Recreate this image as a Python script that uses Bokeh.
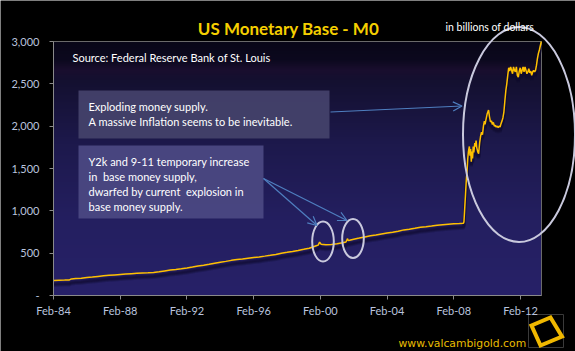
import numpy as np
import pandas as pd
from bokeh.plotting import figure
from bokeh.models import (Range1d, FixedTicker, Label, BoxAnnotation, Arrow,
                          OpenHead)
from bokeh.embed import file_html
from bokeh.resources import INLINE

# ---------------- data (billions of dollars) ----------------
dates = [
    "1984-02-01", "1984-06-01", "1984-10-01", "1985-01-15", "1985-03-01", "1985-06-01", "1985-10-01",
    "1986-02-01", "1986-06-01", "1986-10-01", "1987-02-01", "1987-06-01", "1987-10-01",
    "1988-02-01", "1988-06-01", "1988-10-01", "1989-02-01", "1989-06-01", "1989-10-01",
    "1990-02-01", "1990-06-01", "1990-10-01", "1991-02-01", "1991-06-01", "1991-10-01",
    "1992-02-01", "1992-06-01", "1992-10-01", "1993-02-01", "1993-06-01", "1993-10-01",
    "1994-02-01", "1994-06-01", "1994-10-01", "1995-02-01", "1995-06-01", "1995-10-01",
    "1996-02-01", "1996-06-01", "1996-10-01", "1997-02-01", "1997-06-01", "1997-10-01",
    "1998-02-01", "1998-06-01", "1998-10-01", "1999-02-01", "1999-06-01", "1999-09-01",
    "1999-11-01", "1999-12-15", "2000-01-15", "2000-02-15", "2000-06-01", "2000-10-01",
    "2001-02-01", "2001-06-01", "2001-08-15", "2001-09-19", "2001-10-03", "2001-11-01",
    "2002-02-01", "2002-06-01", "2002-10-01", "2003-02-01", "2003-06-01", "2003-10-01",
    "2004-02-01", "2004-06-01", "2004-10-01", "2005-02-01", "2005-06-01", "2005-10-01",
    "2006-02-01", "2006-06-01", "2006-10-01", "2007-02-01", "2007-06-01", "2007-10-01",
    "2008-02-01", "2008-06-01", "2008-08-27",
    "2008-09-10", "2008-09-24", "2008-10-15", "2008-11-05", "2008-11-19", "2008-12-03",
    "2008-12-17", "2009-01-07", "2009-01-21", "2009-02-04", "2009-02-18", "2009-03-04",
    "2009-03-18", "2009-04-01", "2009-04-15", "2009-05-06", "2009-05-20", "2009-06-03",
    "2009-06-17", "2009-07-08", "2009-07-29", "2009-08-19", "2009-09-09", "2009-09-30",
    "2009-10-21", "2009-11-11", "2009-12-02", "2009-12-16", "2010-01-06", "2010-02-03",
    "2010-03-03", "2010-03-24", "2010-04-14", "2010-05-05", "2010-05-26", "2010-06-16",
    "2010-07-07", "2010-07-28", "2010-08-18", "2010-09-08", "2010-09-29", "2010-10-20",
    "2010-11-10", "2010-12-01", "2010-12-22", "2011-01-12", "2011-02-02", "2011-02-23",
    "2011-03-16", "2011-04-06", "2011-04-27", "2011-05-18", "2011-06-08", "2011-06-29",
    "2011-07-20", "2011-08-10", "2011-08-31", "2011-09-21", "2011-10-12", "2011-11-02",
    "2011-11-23", "2011-12-14", "2012-01-04", "2012-01-25", "2012-02-15", "2012-03-07",
    "2012-03-28", "2012-04-18", "2012-05-09", "2012-05-30", "2012-06-20", "2012-07-11",
    "2012-08-01", "2012-08-22", "2012-09-12", "2012-10-03", "2012-10-24", "2012-11-14",
    "2012-12-05", "2012-12-26", "2013-01-16", "2013-02-06", "2013-02-27", "2013-03-20",
    "2013-04-10", "2013-05-01",
]
values = [
    178, 180, 182, 184, 196, 200, 205,
    212, 218, 225, 232, 238, 243,
    248, 253, 258, 262, 265, 268,
    272, 280, 290, 300, 307, 316,
    326, 336, 348, 358, 368, 380,
    392, 403, 415, 425, 432, 440,
    448, 456, 465, 475, 485, 500,
    510, 520, 532, 545, 558, 575,
    588, 595, 630, 606, 600, 603,
    610, 622, 632, 672, 648, 652,
    665, 678, 692, 705, 715, 727,
    738, 748, 760, 775, 783, 793,
    805, 812, 820, 830, 836, 842,
    848, 850, 852,
    870, 1000, 1200, 1400, 1480, 1620,
    1700, 1760, 1650, 1730, 1580, 1700,
    1620, 1760, 1690, 1800, 1760, 1830,
    1750, 1700, 1675, 1800, 1880, 1930,
    1900, 2000, 2060, 2020, 2080, 2150,
    2190, 2110, 2050, 2065, 2020, 2045,
    2000, 2010, 1990, 2000, 1985, 2000,
    1990, 2030, 2060, 2100, 2170, 2300,
    2420, 2500, 2600, 2690, 2650, 2700,
    2660, 2620, 2700, 2660, 2640, 2700,
    2600, 2580, 2650, 2690, 2620, 2660,
    2700, 2640, 2700, 2660, 2620, 2640,
    2680, 2630, 2650, 2600, 2640, 2660,
    2640, 2660, 2720, 2800, 2860, 2900,
    2950, 3000,
]

y_ticks = [0, 500, 1000, 1500, 2000, 2500, 3000]
y_tick_labels = ["-", "500", "1,000", "1,500", "2,000", "2,500", "3,000"]
x_tick_dates = ["1984-02-01", "1988-02-01", "1992-02-01", "1996-02-01",
                "2000-02-01", "2004-02-01", "2008-02-01", "2012-02-01"]
x_tick_labels = ["Feb-84", "Feb-88", "Feb-92", "Feb-96",
                 "Feb-00", "Feb-04", "Feb-08", "Feb-12"]


def dec_year(s):
    t = pd.Timestamp(s)
    n = 366 if t.is_leap_year else 365
    return t.year + (t.dayofyear - 1) / n


xs = [dec_year(d) for d in dates]
x_ticks = [dec_year(d) for d in x_tick_dates]

# ---------------- layout calibration (pixels) ----------------
W, H = 575, 351
LEFT, BOTTOM = 53, 295
PX_PER_YEAR = 16.68
X0 = x_ticks[0]
Y_TOP_VAL = 3000
Y_PX_3000 = 41
UNITS_PER_PX = Y_TOP_VAL / (BOTTOM - Y_PX_3000)
PLOT_END = X0 + (541 - LEFT) / PX_PER_YEAR


def px2x(px):
    return X0 + (px - LEFT) / PX_PER_YEAR


def py2y(py):
    return (BOTTOM - py) * UNITS_PER_PX


p = figure(width=W, height=H, x_range=Range1d(px2x(0), px2x(W)),
           y_range=Range1d(py2y(H), py2y(0)),
           output_backend="svg", toolbar_location=None,
           min_border_left=0, min_border_right=0, min_border_top=0,
           min_border_bottom=0,
           background_fill_color="black", border_fill_color="black",
           outline_line_color=None)
p.grid.visible = False

# background gradient of plot area
stops_t = [0.0, 0.07, 0.11, 0.15, 0.40, 0.70, 1.0]
stops_c = np.array([(9, 7, 24), (12, 9, 30), (26, 14, 46), (20, 16, 48),
                    (29, 25, 76), (36, 31, 96), (39, 33, 104)], dtype=float)
n = 254
t = np.linspace(0, 1, n)
cols = np.stack([np.interp(t, stops_t, stops_c[:, k]) for k in range(3)], axis=1)
img = np.zeros((n, 1), dtype=np.uint32)
view = img.view(dtype=np.uint8).reshape((n, 1, 4))
view[:, 0, 0] = cols[::-1, 0]
view[:, 0, 1] = cols[::-1, 1]
view[:, 0, 2] = cols[::-1, 2]
view[:, 0, 3] = 255
p.image_rgba(image=[img], x=X0, y=0, dw=PLOT_END - X0, dh=Y_TOP_VAL)

# plot area border (top/right)
p.quad(left=[X0], right=[PLOT_END], bottom=[0], top=[Y_TOP_VAL],
       fill_color=None, line_color="#6a6a6a", line_width=1)

# soft shadow line drawn through a shifted range
for k, (dpx, a) in enumerate([(5, 0.25), (4, 0.35), (3, 0.35)]):
    shift = dpx * UNITS_PER_PX
    name = "shadow%d" % k
    p.extra_y_ranges[name] = Range1d(py2y(H) + shift, py2y(0) + shift)
    p.line(xs, values, y_range_name=name, line_color="#0d0a2c", line_width=3,
           line_alpha=a)
p.line(xs, values, line_color="#FFC000", line_width=1.5)

# axes, fixed inside the full-canvas frame
p.xaxis.fixed_location = 0
p.yaxis.fixed_location = X0
p.yaxis.ticker = FixedTicker(ticks=y_ticks)
p.yaxis.major_label_overrides = {t_: l for t_, l in zip(y_ticks, y_tick_labels)}
p.yaxis.bounds = (0, Y_TOP_VAL)
p.xaxis.ticker = FixedTicker(ticks=x_ticks)
p.xaxis.major_label_overrides = {t_: l for t_, l in zip(x_ticks, x_tick_labels)}
p.xaxis.bounds = (X0, PLOT_END)
for ax in (p.xaxis, p.yaxis):
    ax.axis_line_color = "#8a8a8a"
    ax.major_tick_line_color = "#8a8a8a"
    ax.major_tick_out = 4
    ax.major_tick_in = 0
    ax.minor_tick_line_color = None
    ax.major_label_text_color = "#b9c3de"
    ax.major_label_text_font = "Lato"
    ax.major_label_text_font_size = "11px"
p.yaxis.major_label_standoff = 10
p.xaxis.major_label_standoff = 4

# text boxes
p.add_layout(BoxAnnotation(left=px2x(78), right=px2x(329), top=py2y(90), bottom=py2y(138),
                           fill_color="#43416a", fill_alpha=0.95, line_color=None))
p.add_layout(BoxAnnotation(left=px2x(78), right=px2x(263), top=py2y(145), bottom=py2y(218),
                           fill_color="#4b4882", fill_alpha=0.95, line_color=None))


def lab(px, py, text, size="11px", color="white", font="Lato", style="normal",
        align="left"):
    p.add_layout(Label(x=px2x(px), y=py2y(py), text=text, text_color=color,
                       text_font=font, text_font_size=size, text_font_style=style,
                       text_align=align, text_baseline="alphabetic"))


lab(288, 27.5, "US Monetary Base - M0", size="17px", color="#f5cf00", style="bold",
    align="center")
lab(445, 26.5, "in billions of dollars", size="10.5px")
lab(72, 56.5, "Source: Federal Reserve Bank of St. Louis", size="11px")
lab(88, 105.5, "Exploding money supply.")
lab(88, 120.5, "A massive Inflation seems to be inevitable.")
lab(88, 160.5, "Y2k and 9-11 temporary increase")
lab(88, 175.5, "in\u00a0 base money supply,")
lab(88, 190.5, "dwarfed by current\u00a0 explosion in")
lab(88, 205.5, "base money supply.")
lab(398, 343, "www.valcambigold.com", size="10.8px", color="#e8bd00", font="DejaVu Sans")

# arrows
acol = "#4f7fc0"
for (x1, y1, x2, y2) in [(330, 111.5, 461.5, 105.5), (263, 178, 316.5, 225),
                         (263, 178, 346.5, 220)]:
    p.add_layout(Arrow(x_start=px2x(x1), y_start=py2y(y1), x_end=px2x(x2), y_end=py2y(y2),
                       line_color=acol, line_width=1.2,
                       end=OpenHead(size=9, line_color=acol, line_width=1.2)))

# ellipses
ecx = [px2x(322.5), px2x(352.5), px2x(518.5)]
ecy = [py2y(241), py2y(238), py2y(134)]
ew = [21.6 / PX_PER_YEAR, 21.6 / PX_PER_YEAR, 112 / PX_PER_YEAR]
eh = [40 * UNITS_PER_PX, 39 * UNITS_PER_PX, 215 * UNITS_PER_PX]
p.ellipse(x=ecx, y=ecy, width=ew, height=eh, fill_color=None,
          line_color="#c9c9dd", line_width=2)

# logo (decorative)
p.quad(left=[px2x(528)], right=[px2x(563)], top=[py2y(314)], bottom=[py2y(347)],
       fill_color=None, line_color="#3a3a3a", line_width=1)
p.patch([px2x(550), px2x(561.5), px2x(540), px2x(531)],
        [py2y(317), py2y(336), py2y(345), py2y(325)],
        fill_color=None, line_color="#f0b800", line_width=4, line_join="miter")

open("out.html", "w").write(file_html(p, INLINE))
